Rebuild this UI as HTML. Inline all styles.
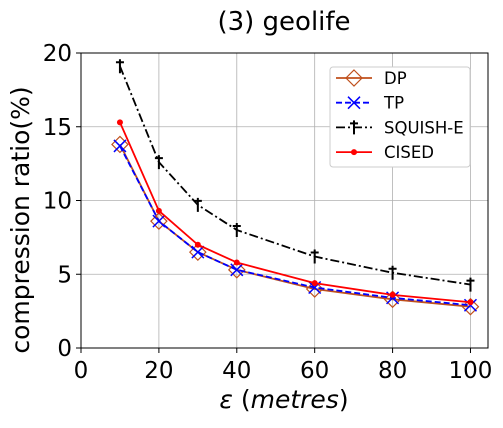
<!DOCTYPE html>
<html><head><meta charset="utf-8"><style>
body{margin:0;background:#fff;}
svg text{font-family:"DejaVu Sans","Liberation Sans",sans-serif;fill:#000;}
</style></head><body>
<svg id="chart" width="503" height="423">
<text x="284" y="30" font-size="26" text-anchor="middle">(3) geolife</text>
<g id="grid"></g>
<g id="series"></g>
<rect x="81" y="53" width="407" height="295" fill="none" stroke="#000" stroke-width="1"/>
<g id="ticks"></g>
<text x="284" y="408" font-size="25" text-anchor="middle"><tspan font-style="italic">ε</tspan> (<tspan font-style="italic">metres</tspan>)</text>
<text transform="translate(29,220) rotate(-90)" font-size="25" text-anchor="middle">compression ratio(%)</text>
<g id="legend">
<rect x="330" y="67" width="140" height="100" rx="3" fill="#fff" stroke="#ccc"/>
</g>
</svg>
<script>
const xs=[10,20,30,40,60,80,100];
const dp=[13.8,8.6,6.5,5.3,4.0,3.3,2.8];
const tp=[13.7,8.6,6.5,5.3,4.1,3.4,2.9];
const squish=[19.1,12.6,9.7,8.0,6.2,5.1,4.3];
const cised=[15.3,9.3,7.0,5.8,4.4,3.6,3.1];
const xTicks=[0,20,40,60,80,100];
const yTicks=[0,5,10,15,20];
const NS='http://www.w3.org/2000/svg';
const X=v=>81+v*(407/104.5);
const Y=v=>348-v*(295/20);
function mk(tag,attrs,parent){const e=document.createElementNS(NS,tag);for(const k in attrs)e.setAttribute(k,attrs[k]);parent.appendChild(e);return e;}
const grid=document.getElementById('grid'),ticks=document.getElementById('ticks'),ser=document.getElementById('series'),leg=document.getElementById('legend');
xTicks.forEach(t=>{
 let l=mk('line',{x1:X(t),x2:X(t),y1:53,y2:348,stroke:'#b0b0b0','stroke-width':0.8},grid);
 
 mk('line',{x1:X(t),x2:X(t),y1:348,y2:353,stroke:'#000'},ticks);
 let tx=mk('text',{x:X(t),y:378,'font-size':23,'text-anchor':'middle'},ticks);tx.textContent=t;
 
});
yTicks.forEach(t=>{
 let l=mk('line',{x1:81,x2:488,y1:Y(t),y2:Y(t),stroke:'#b0b0b0','stroke-width':0.8},grid);
 
 mk('line',{x1:76,x2:81,y1:Y(t),y2:Y(t),stroke:'#000'},ticks);
 let tx=mk('text',{x:72,y:Y(t)+8,'font-size':23,'text-anchor':'end'},ticks);tx.textContent=t;
 
});
function marker(type,x,y,color,p){
 if(type==='diamond')mk('polygon',{points:`${x},${y-8} ${x+8},${y} ${x},${y+8} ${x-8},${y}`,fill:'none',stroke:color,'stroke-width':1.2},p);
 else if(type==='x'){mk('path',{d:`M${x-6},${y-6}L${x+6},${y+6}M${x-6},${y+6}L${x+6},${y-6}`,stroke:color,'stroke-width':1.5},p);}
 else if(type==='cross'){mk('path',{d:`M${x},${y-7}L${x},${y+7}M${x-4},${y-4}L${x+4},${y-4}`,stroke:color,'stroke-width':2},p);}
 else mk('circle',{cx:x,cy:y,r:3,fill:color},p);
}
const defs=[
 {name:'DP',vals:dp,color:'#c0501c',dash:'',m:'diamond',key:'series-dp'},
 {name:'TP',vals:tp,color:'#0000ff',dash:'6,3',m:'x',key:'series-tp'},
 {name:'SQUISH-E',vals:squish,color:'#000',dash:'9,3,2,3',m:'cross',key:'series-squish-e'},
 {name:'CISED',vals:cised,color:'#ff0000',dash:'',m:'dot',key:'series-cised'}
];
defs.forEach((d,i)=>{
 const g=mk('g',{},ser);
 
 
 mk('polyline',{points:xs.map((x,j)=>X(x)+','+Y(d.vals[j])).join(' '),fill:'none',stroke:d.color,'stroke-width':1.8,'stroke-dasharray':d.dash},g);
 xs.forEach((x,j)=>marker(d.m,X(x),Y(d.vals[j]),d.color,g));
 const ly=78+i*24.7;
 const le=mk('g',{},leg);
 
 
 mk('line',{x1:336,x2:372,y1:ly,y2:ly,stroke:d.color,'stroke-width':1.8,'stroke-dasharray':d.dash},le);
 marker(d.m,354,ly,d.color,le);
 const t=mk('text',{x:384,y:ly+6,'font-size':16.5},le);t.textContent=d.name;
});
</script>
</body></html>
